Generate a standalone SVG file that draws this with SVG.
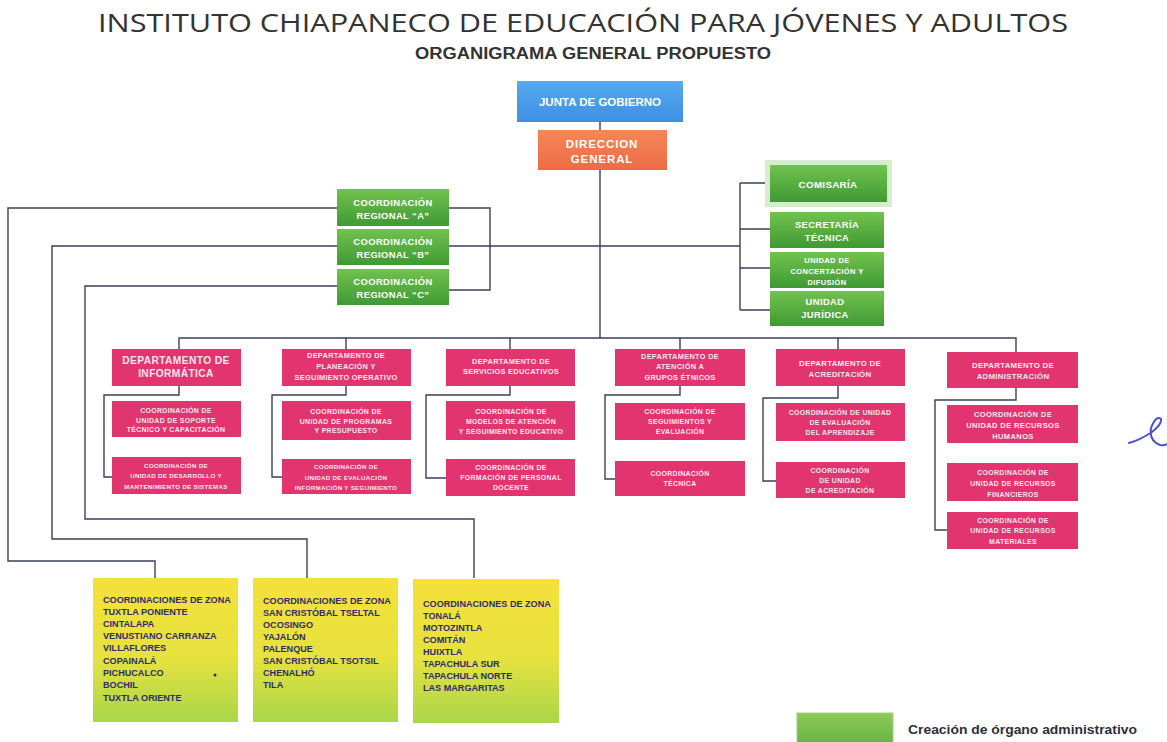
<svg xmlns="http://www.w3.org/2000/svg" width="1167" height="742" viewBox="0 0 1167 742">
<defs>
<linearGradient id="gGreen" x1="0" y1="0" x2="0" y2="1"><stop offset="0" stop-color="#72c24e"/><stop offset="1" stop-color="#3f9a33"/></linearGradient>
<linearGradient id="gBlue" x1="0" y1="0" x2="0" y2="1"><stop offset="0" stop-color="#55aaf0"/><stop offset="1" stop-color="#3e8fe2"/></linearGradient>
<linearGradient id="gOrange" x1="0" y1="0" x2="0" y2="1"><stop offset="0" stop-color="#f48757"/><stop offset="1" stop-color="#ee6b45"/></linearGradient>
<linearGradient id="gYellow" x1="0" y1="0" x2="0" y2="1"><stop offset="0" stop-color="#f6e03a"/><stop offset="0.55" stop-color="#e6e23e"/><stop offset="1" stop-color="#a9d64a"/></linearGradient>
<linearGradient id="gLegend" x1="0" y1="0" x2="0" y2="1"><stop offset="0" stop-color="#8fca5a"/><stop offset="1" stop-color="#63b342"/></linearGradient>
</defs>
<style>
.t{font-family:"Liberation Sans",Arial,sans-serif;font-weight:bold;fill:#ffffff;text-anchor:middle}
.pk{fill:#e2356f}
.gr{fill:url(#gGreen)}
.yl{fill:url(#gYellow)}
.yt{font-family:"Liberation Sans",Arial,sans-serif;font-weight:bold;fill:#2e2b6c;font-size:9.1px}
.c{fill:none;stroke:#3d3f5f;stroke-width:1.4}
.d{font-size:7.4px;letter-spacing:0.3px}
.d2{font-size:7.8px;letter-spacing:0.3px}
.s6{font-size:6.9px;letter-spacing:0.35px}
.s5{font-size:6.2px;letter-spacing:0.3px}
.s7{font-size:7.5px;letter-spacing:0.4px}
.g{font-size:9.4px;letter-spacing:0.4px}
.pt{fill:#fde6ee}
</style>
<rect width="1167" height="742" fill="#ffffff"/>
<g id="title">
<text x="583" y="32" font-family="Open Sans,Liberation Sans,sans-serif" font-size="25" fill="#333333" text-anchor="middle" textLength="970" lengthAdjust="spacingAndGlyphs">INSTITUTO CHIAPANECO DE EDUCACIÓN PARA JÓVENES Y ADULTOS</text>
<text x="593" y="59" font-family="Liberation Sans,Arial,sans-serif" font-weight="bold" font-size="16" fill="#333333" text-anchor="middle" textLength="356" lengthAdjust="spacingAndGlyphs">ORGANIGRAMA GENERAL PROPUESTO</text>
</g>
<g id="connectors">
<path class="c" d="M600 122V130M600 170V338"/>
<path class="c" d="M449 246H740M740 183V310M740 183H770M740 229H770M740 268H770M740 310H770"/>
<path class="c" d="M449 208H490V290H449"/>
<path class="c" d="M337 208H8V561H155V578"/>
<path class="c" d="M337 246H52V539H307V578"/>
<path class="c" d="M337 286H85V519H474V578"/>
<path class="c" d="M179 349V338H1016V352M346 338V349M510 338V349M680 338V349M838 338V349"/>
<path class="c" d="M179 386V395H104V477H112"/>
<path class="c" d="M346 386V395H272V477H282"/>
<path class="c" d="M510 386V395H426V478H446"/>
<path class="c" d="M680 386V395H605V479H615"/>
<path class="c" d="M838 386V398H763V481H776"/>
<path class="c" d="M1016 388V400H935V530H947"/>
</g>
<g id="junta"><rect x="517" y="81" width="166" height="41" fill="url(#gBlue)"/><text class="t" x="600" y="106" font-size="11.5">JUNTA DE GOBIERNO</text></g>
<g id="direccion"><rect x="538" y="130" width="129" height="40" fill="url(#gOrange)"/><text class="t" x="602" y="148" font-size="11.5" letter-spacing="0.9">DIRECCION</text><text class="t" x="602" y="162.5" font-size="11.5" letter-spacing="0.9">GENERAL</text></g>
<g id="comisaria"><rect x="765" y="160" width="127" height="47" fill="#d6ecce"/><rect x="770" y="165" width="117" height="37" class="gr"/><text class="t" x="828" y="187.5" font-size="9.8" letter-spacing="0.3">COMISARÍA</text></g>
<g id="secretaria"><rect x="770" y="212" width="114" height="36" class="gr"/><text class="t g" x="827" y="228">SECRETARÍA</text><text class="t g" x="827" y="240.5">TÉCNICA</text></g>
<g id="concertacion"><rect x="770" y="252" width="114" height="36" class="gr"/><text class="t s7" x="827" y="262.5">UNIDAD DE</text><text class="t s7" x="827" y="273.5">CONCERTACIÓN Y</text><text class="t s7" x="827" y="284.5">DIFUSIÓN</text></g>
<g id="juridica"><rect x="770" y="291" width="114" height="35" class="gr"/><text class="t g" x="825" y="304.5">UNIDAD</text><text class="t g" x="825" y="317.5">JURÍDICA</text></g>
<g id="regA"><rect x="337" y="189" width="112" height="37" class="gr"/><text class="t g" x="393" y="206">COORDINACIÓN</text><text class="t g" x="393" y="218.5">REGIONAL “A”</text></g>
<g id="regB"><rect x="337" y="229" width="112" height="36" class="gr"/><text class="t g" x="393" y="245">COORDINACIÓN</text><text class="t g" x="393" y="257.5">REGIONAL “B”</text></g>
<g id="regC"><rect x="337" y="269" width="112" height="36" class="gr"/><text class="t g" x="393" y="285">COORDINACIÓN</text><text class="t g" x="393" y="297.5">REGIONAL “C”</text></g>
<g id="dep1"><rect x="112" y="349" width="129" height="37" class="pk"/><text class="t pt" x="176" y="363.5" font-size="10.2" letter-spacing="0.4">DEPARTAMENTO DE</text><text class="t pt" x="176" y="377" font-size="10.2" letter-spacing="0.4">INFORMÁTICA</text></g>
<g id="dep2"><rect x="282" y="349" width="129" height="37" class="pk"/><text class="t pt d" x="346" y="357.5">DEPARTAMENTO DE</text><text class="t pt d" x="346" y="368.5">PLANEACIÓN Y</text><text class="t pt d" x="346" y="380">SEGUIMIENTO OPERATIVO</text></g>
<g id="dep3"><rect x="446" y="349" width="129" height="37" class="pk"/><text class="t pt d" x="511" y="363.5">DEPARTAMENTO DE</text><text class="t pt d" x="511" y="374">SERVICIOS EDUCATIVOS</text></g>
<g id="dep4"><rect x="615" y="349" width="130" height="37" class="pk"/><text class="t pt d" x="680" y="358.5">DEPARTAMENTO DE</text><text class="t pt d" x="680" y="369">ATENCIÓN A</text><text class="t pt d" x="680" y="379.5">GRUPOS ÉTNICOS</text></g>
<g id="dep5"><rect x="776" y="349" width="129" height="37" class="pk"/><text class="t pt d2" x="840" y="366">DEPARTAMENTO DE</text><text class="t pt d2" x="840" y="377">ACREDITACIÓN</text></g>
<g id="dep6"><rect x="947" y="352" width="131" height="36" class="pk"/><text class="t pt d2" x="1013" y="367.5">DEPARTAMENTO DE</text><text class="t pt d2" x="1013" y="378.5">ADMINISTRACIÓN</text></g>
<g id="c1a"><rect x="112" y="401" width="129" height="36" class="pk"/><text class="t pt s6" x="176" y="413">COORDINACIÓN DE</text><text class="t pt s6" x="176" y="422.5">UNIDAD DE SOPORTE</text><text class="t pt s6" x="176" y="432">TÉCNICO Y CAPACITACIÓN</text></g>
<g id="c1b"><rect x="112" y="457" width="129" height="37" class="pk"/><text class="t pt s5" x="176" y="468">COORDINACIÓN DE</text><text class="t pt s5" x="176" y="478">UNIDAD DE DESARROLLO Y</text><text class="t pt s5" x="176" y="489">MANTENIMIENTO DE SISTEMAS</text></g>
<g id="c2a"><rect x="282" y="401" width="129" height="39" class="pk"/><text class="t pt s6" x="346" y="414">COORDINACIÓN DE</text><text class="t pt s6" x="346" y="423.5">UNIDAD DE PROGRAMAS</text><text class="t pt s6" x="346" y="433">Y PRESUPUESTO</text></g>
<g id="c2b"><rect x="282" y="459" width="129" height="35" class="pk"/><text class="t pt s5" x="346" y="469">COORDINACIÓN DE</text><text class="t pt s5" x="346" y="479.5">UNIDAD DE EVALUACIÓN</text><text class="t pt s5" x="346" y="490">INFORMACIÓN Y SEGUIMIENTO</text></g>
<g id="c3a"><rect x="446" y="401" width="129" height="39" class="pk"/><text class="t pt s6" x="511" y="414">COORDINACIÓN DE</text><text class="t pt s6" x="511" y="424">MODELOS DE ATENCIÓN</text><text class="t pt s6" x="511" y="434">Y SEGUIMIENTO EDUCATIVO</text></g>
<g id="c3b"><rect x="446" y="459" width="129" height="37" class="pk"/><text class="t pt s6" x="511" y="470">COORDINACIÓN DE</text><text class="t pt s6" x="511" y="480">FORMACIÓN DE PERSONAL</text><text class="t pt s6" x="511" y="490">DOCENTE</text></g>
<g id="c4a"><rect x="615" y="403" width="130" height="37" class="pk"/><text class="t pt s6" x="680" y="414">COORDINACIÓN DE</text><text class="t pt s6" x="680" y="424">SEGUIMIENTOS Y</text><text class="t pt s6" x="680" y="434">EVALUACIÓN</text></g>
<g id="c4b"><rect x="615" y="461" width="130" height="35" class="pk"/><text class="t pt s6" x="680" y="476">COORDINACIÓN</text><text class="t pt s6" x="680" y="486">TÉCNICA</text></g>
<g id="c5a"><rect x="776" y="403" width="129" height="38" class="pk"/><text class="t pt s6" x="840" y="415">COORDINACIÓN DE UNIDAD</text><text class="t pt s6" x="840" y="425">DE EVALUACIÓN</text><text class="t pt s6" x="840" y="435">DEL APRENDIZAJE</text></g>
<g id="c5b"><rect x="776" y="462" width="129" height="36" class="pk"/><text class="t pt s6" x="840" y="473">COORDINACIÓN</text><text class="t pt s6" x="840" y="483">DE UNIDAD</text><text class="t pt s6" x="840" y="493">DE ACREDITACIÓN</text></g>
<g id="c6a"><rect x="947" y="405" width="131" height="38" class="pk"/><text class="t pt s7" x="1013" y="417">COORDINACIÓN DE</text><text class="t pt s7" x="1013" y="428">UNIDAD DE RECURSOS</text><text class="t pt s7" x="1013" y="439">HUMANOS</text></g>
<g id="c6b"><rect x="947" y="463" width="131" height="38" class="pk"/><text class="t pt s6" x="1013" y="474.5">COORDINACIÓN DE</text><text class="t pt s6" x="1013" y="485.5">UNIDAD DE RECURSOS</text><text class="t pt s6" x="1013" y="496.5">FINANCIEROS</text></g>
<g id="c6c"><rect x="947" y="512" width="131" height="37" class="pk"/><text class="t pt s6" x="1013" y="522.5">COORDINACIÓN DE</text><text class="t pt s6" x="1013" y="533">UNIDAD DE RECURSOS</text><text class="t pt s6" x="1013" y="543.5">MATERIALES</text></g>
<g id="zona1"><rect x="93" y="578" width="145" height="144" class="yl"/>
<text class="yt" x="103" y="603">COORDINACIONES DE ZONA</text><text class="yt" x="103" y="615">TUXTLA PONIENTE</text><text class="yt" x="103" y="627">CINTALAPA</text><text class="yt" x="103" y="639">VENUSTIANO CARRANZA</text><text class="yt" x="103" y="651">VILLAFLORES</text><text class="yt" x="103" y="663.5">COPAINALÁ</text><text class="yt" x="103" y="676">PICHUCALCO</text><text class="yt" x="103" y="688">BOCHIL</text><text class="yt" x="103" y="700.5">TUXTLA ORIENTE</text>
<circle cx="215" cy="675" r="1.5" fill="#2e2b6c"/></g>
<g id="zona2"><rect x="253" y="578" width="145" height="144" class="yl"/>
<text class="yt" x="263" y="604">COORDINACIONES DE ZONA</text><text class="yt" x="263" y="616">SAN CRISTÓBAL TSELTAL</text><text class="yt" x="263" y="628">OCOSINGO</text><text class="yt" x="263" y="640">YAJALÓN</text><text class="yt" x="263" y="652">PALENQUE</text><text class="yt" x="263" y="664">SAN CRISTÓBAL TSOTSIL</text><text class="yt" x="263" y="676">CHENALHÓ</text><text class="yt" x="263" y="688">TILA</text></g>
<g id="zona3"><rect x="413" y="579" width="146" height="144" class="yl"/>
<text class="yt" x="423" y="607">COORDINACIONES DE ZONA</text><text class="yt" x="423" y="619">TONALÁ</text><text class="yt" x="423" y="631">MOTOZINTLA</text><text class="yt" x="423" y="643">COMITÁN</text><text class="yt" x="423" y="655">HUIXTLA</text><text class="yt" x="423" y="667">TAPACHULA SUR</text><text class="yt" x="423" y="679">TAPACHULA NORTE</text><text class="yt" x="423" y="691">LAS MARGARITAS</text></g>
<g id="legend"><rect x="797" y="713" width="96" height="32" fill="url(#gLegend)" stroke="#9fd27a" stroke-width="1"/><text x="908" y="734" font-family="Liberation Sans,Arial,sans-serif" font-weight="bold" font-size="12" fill="#2f2f3a" textLength="229" lengthAdjust="spacingAndGlyphs">Creación de órgano administrativo</text></g>
<path d="M1129 443Q1140 440 1152 432Q1162 424 1161 419Q1156 415 1151 428Q1149 441 1160 445Q1164 446 1167 444" fill="none" stroke="#4b52cf" stroke-width="2" stroke-linecap="round"/>
</svg>
